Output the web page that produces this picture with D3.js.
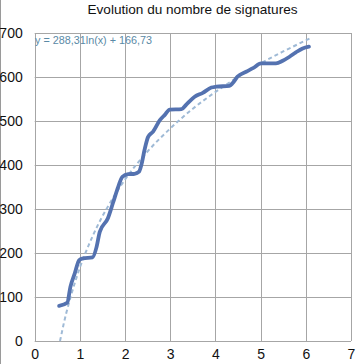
<!DOCTYPE html>
<html><head><meta charset="utf-8">
<script src="https://cdn.jsdelivr.net/npm/d3@7"></script>
<style>
html,body{margin:0;padding:0;background:#fff;}
svg{display:block;font-family:"Liberation Sans",Arial,Helvetica,sans-serif;}
</style></head><body>
<svg id="c" width="356" height="364"></svg>
<script>
const title = "Evolution du nombre de signatures";
const equation = "y = 288,31ln(x) + 166,73";
const xTicks = [0,1,2,3,4,5,6,7];
const yTicks = [0,100,200,300,400,500,600,700];
// Signatures series (x, y)
const sigX = [0.54,0.72,0.79,0.89,0.985,1.07,1.28,1.37,1.44,1.62,1.73,1.85,1.94,2.07,2.21,2.31,2.36,2.43,2.51,2.62,2.77,2.88,2.99,3.25,3.36,3.54,3.72,3.91,4.02,4.31,4.38,4.49,4.68,4.83,5.01,5.34,5.49,5.64,5.78,5.93,6.07];
const sigY = [80,87,123,155,184,188,190,214,248,279,313,351,373,379,380,385,400,434,464,476,502,514,526,527,538,555,564,576,578,580,586,601,612,620,631,631,637,646,656,665,669];
// Trend line (logarithmic fit) points
const trendX = [0.56,0.6,0.65,0.7,0.8,0.9,1,1.2,1.4,1.6,1.8,2,2.5,3,3.5,4,4.5,5,5.5,6.1];
const trendY = [0,19,43,64,102,136,167,219,264,302,336,367,431,483,528,566,600,631,658,688];

const svg = d3.select("#c");
const x = d3.scaleLinear().domain([0,7]).range([34.7,351]);
const y = d3.scaleLinear().domain([0,700]).range([341,33]);

// outer left border
svg.append("line").attr("x1",0.5).attr("x2",0.5).attr("y1",0).attr("y2",364).attr("stroke","#9a9a9a");

svg.append("text").attr("x",192.5).attr("y",14).attr("text-anchor","middle")
  .attr("font-size",13.6).attr("fill","#111").text(title);

const grid = svg.append("g").attr("stroke","#a6a6a6").attr("stroke-width",1);
xTicks.forEach(t=>grid.append("line").attr("x1",Math.round(x(t))+0.5).attr("x2",Math.round(x(t))+0.5).attr("y1",y(700)).attr("y2",y(0)));
yTicks.forEach(t=>grid.append("line").attr("y1",Math.round(y(t))+0.5).attr("y2",Math.round(y(t))+0.5).attr("x1",x(0)).attr("x2",x(7)));

const xa = d3.axisBottom(x).tickValues(xTicks).tickSize(0).tickPadding(8.5).tickFormat(d3.format("d"));
const gx = svg.append("g").attr("transform",`translate(0,${y(0)})`).call(xa);
gx.select(".domain").remove();
gx.selectAll("text").attr("font-size",14).attr("fill","#111").attr("font-family","Liberation Sans, Arial, sans-serif");

const ya = d3.axisLeft(y).tickValues(yTicks).tickSize(0).tickPadding(12).tickFormat(d3.format("d"));
const gy = svg.append("g").attr("transform",`translate(${x(0)},0)`).call(ya);
gy.select(".domain").remove();
gy.selectAll("text").attr("font-size",14).attr("fill","#111").attr("font-family","Liberation Sans, Arial, sans-serif");

const trend = trendX.map((v,i)=>[v,trendY[i]]);
svg.append("path").datum(trend)
  .attr("d",d3.line().x(d=>x(d[0])).y(d=>y(d[1])).curve(d3.curveMonotoneX))
  .attr("fill","none").attr("stroke","#9fbad6").attr("stroke-width",2).attr("stroke-dasharray","4,3");

const sig = sigX.map((v,i)=>[v,sigY[i]]);
svg.append("path").datum(sig)
  .attr("d",d3.line().x(d=>x(d[0])).y(d=>y(d[1])).curve(d3.curveMonotoneX))
  .attr("fill","none").attr("stroke","#5472b0").attr("stroke-width",3.8).attr("stroke-linejoin","round").attr("stroke-linecap","round");

svg.append("text").attr("x",35).attr("y",44).attr("font-size",10.8).attr("fill","#5a8aa6").text(equation);
</script>
</body></html>
